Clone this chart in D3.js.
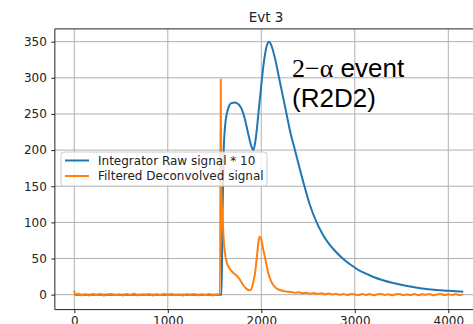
<!DOCTYPE html>
<html>
<head>
<meta charset="utf-8">
<script src="https://cdn.jsdelivr.net/npm/d3@7"></script>
<style>
  body { margin: 0; background: #fff; }
  text { font-family: "DejaVu Sans", sans-serif; }
</style>
</head>
<body>
<div id="main"></div>
<script>
const width = 473;
const height = 324;

const title = "Evt 3";
const seriesNames = ["Integrator Raw signal * 10", "Filtered Deconvolved signal"];
const seriesColors = ["#1f77b4", "#ff7f0e"];
const xTicks = [0, 1000, 2000, 3000, 4000];
const yTicks = [0, 50, 100, 150, 200, 250, 300, 350];

// blue: raw integrator signal (x10)
const rawX = [0, 1575, 1585, 1598, 1615, 1647, 1680, 1719, 1760, 1790, 1820, 1844, 1870, 1897, 1915,
  1935, 1955, 1975, 2000, 2030, 2060, 2083, 2110, 2150, 2190, 2230, 2270, 2310, 2360, 2410, 2457,
  2520, 2592, 2650, 2720, 2800, 2880, 2960, 3040, 3120, 3200, 3300, 3400, 3519, 3700, 3876, 4000, 4160];
const rawY = [0, 0, 110, 200, 236, 258, 265, 266, 263, 257, 245, 232, 217, 204, 200,
  211, 232, 258, 290, 324, 345, 350, 344, 325, 300, 275, 250, 225, 200, 175, 152,
  124, 100, 85, 71, 59, 49, 41, 34, 29, 24.5, 20, 16.5, 13, 9, 6.5, 5.5, 4];

// orange: filtered deconvolved signal
const filtX = [0, 10, 40, 80, 120, 160, 200, 240, 280, 320, 360, 400, 440, 480, 520, 560, 600, 640,
  680, 720, 760, 800, 840, 880, 920, 960, 1000, 1040, 1080, 1120, 1160, 1200, 1240, 1280, 1320, 1360,
  1400, 1440, 1480, 1520, 1558, 1566, 1572, 1587, 1600, 1612, 1630, 1648, 1675, 1701, 1730, 1754,
  1780, 1808, 1835, 1861, 1880, 1900, 1915, 1933, 1955, 1979, 1995, 2022, 2050, 2075, 2100, 2128,
  2160, 2200, 2240, 2280, 2320, 2360, 2400, 2440, 2480, 2520, 2560, 2600, 2640, 2680, 2720, 2760,
  2800, 2840, 2880, 2920, 2960, 3000, 3040, 3080, 3120, 3160, 3200, 3240, 3280, 3320, 3360, 3400,
  3440, 3480, 3520, 3560, 3600, 3640, 3680, 3720, 3760, 3800, 3840, 3880, 3920, 3960, 4000, 4040,
  4080, 4120, 4160];
const filtY = [5.5, -0.5, 1.2, -0.8, 0.6, -1.1, 1.0, -0.4, 0.9, -1.2, 0.5, 1.1, -0.7, 0.3, -1.0, 0.8,
  -0.5, 1.2, -0.9, 0.4, -0.2, 1.0, -1.1, 0.6, -0.6, 0.9, -0.3, 1.1, -0.8, 0.2, -1.0, 0.7, -0.4, 1.0,
  -0.9, 0.5, -0.6, 0.8, -1.0, 0.4, 0.2, 298, 150, 103, 72, 57, 45, 39, 34, 30, 27, 24,
  19, 13, 9, 6.5, 6, 10, 18, 29.5, 55, 80, 78, 62, 45, 29.5, 20, 13.4,
  9, 6.5, 5, 4, 3.8, 2.6, 3.2, 2.0, 2.8, 1.4, 2.2, 0.9, 1.9, 0.6, 1.5, 0.3,
  1.2, -0.2, 1.1, -0.4, 0.9, 0.2, -0.6, 1.0, -0.3, 0.8, -0.8, 0.5, 1.1, -0.5, 0.7, -0.9,
  0.6, 1.0, -0.7, 0.3, -0.4, 1.1, -0.8, 0.6, -0.2, 0.9, -1.0, 0.4, 1.0, -0.6, 0.5, -0.3,
  0.8, -0.5, 0.4];

const plot = { left: 54.85, right: 482.7, top: 28.9, bottom: 309.6 };

const x = d3.scaleLinear().domain([-208, 4368]).range([plot.left, plot.right]);
const y = d3.scaleLinear().domain([-20.65, 367.65]).range([plot.bottom, plot.top]);

const svg = d3.select("#main").append("svg").attr("width", width).attr("height", height);

svg.append("defs").append("clipPath").attr("id", "clip")
  .append("rect")
  .attr("x", plot.left).attr("y", plot.top)
  .attr("width", plot.right - plot.left).attr("height", plot.bottom - plot.top);

// grid
const grid = svg.append("g");
grid.selectAll(".vgrid").data(xTicks).enter().append("line")
  .attr("x1", (d) => x(d)).attr("x2", (d) => x(d))
  .attr("y1", plot.top).attr("y2", plot.bottom)
  .attr("stroke", "#b0b0b0").attr("stroke-width", 1);
grid.selectAll(".hgrid").data(yTicks).enter().append("line")
  .attr("x1", plot.left).attr("x2", plot.right)
  .attr("y1", (d) => y(d)).attr("y2", (d) => y(d))
  .attr("stroke", "#b0b0b0").attr("stroke-width", 1);

// lines
const line = d3.line().x((d) => x(d[0])).y((d) => y(d[1])).curve(d3.curveMonotoneX);
const rawData = rawX.map((v, i) => [v, rawY[i]]);
const filtData = filtX.map((v, i) => [v, filtY[i]]);

const lines = svg.append("g").attr("clip-path", "url(#clip)");
lines.append("path").datum(rawData).attr("d", line)
  .attr("fill", "none").attr("stroke", seriesColors[0]).attr("stroke-width", 2)
  .attr("stroke-linejoin", "round");
lines.append("path").datum(filtData).attr("d", line)
  .attr("fill", "none").attr("stroke", seriesColors[1]).attr("stroke-width", 2)
  .attr("stroke-linejoin", "round");

// axes
const xAxis = svg.append("g").attr("transform", `translate(0,${plot.bottom})`)
  .call(d3.axisBottom(x).tickValues(xTicks).tickFormat(d3.format("d")).tickSize(3.5).tickPadding(3));
const yAxis = svg.append("g").attr("transform", `translate(${plot.left},0)`)
  .call(d3.axisLeft(y).tickValues(yTicks).tickFormat(d3.format("d")).tickSize(3.5).tickPadding(4.5));

[xAxis, yAxis].forEach((ax) => {
  ax.select(".domain").remove();
  ax.selectAll("line").attr("stroke", "#222").attr("stroke-width", 1);
  ax.selectAll("text").attr("fill", "#222")
    .style("font-family", "DejaVu Sans").style("font-size", "12px");
});

// spines
svg.append("line").attr("x1", plot.left).attr("x2", plot.left)
  .attr("y1", plot.top).attr("y2", plot.bottom).attr("stroke", "#222");
svg.append("line").attr("x1", plot.left).attr("x2", plot.right)
  .attr("y1", plot.top).attr("y2", plot.top).attr("stroke", "#222");
svg.append("line").attr("x1", plot.left).attr("x2", plot.right)
  .attr("y1", plot.bottom).attr("y2", plot.bottom).attr("stroke", "#222");

// title
svg.append("text")
  .attr("x", 266).attr("y", 22)
  .attr("text-anchor", "middle")
  .attr("fill", "#222")
  .style("font-size", "13.5px")
  .text(title);

// annotation
const note = svg.append("text")
  .attr("x", 292).attr("y", 77)
  .attr("fill", "#000")
  .style("font-family", "Liberation Sans, Arial, sans-serif")
  .style("font-size", "26px");
note.append("tspan").style("font-family", "Liberation Serif, serif").text("2\u2212\u03b1");
note.append("tspan").text(" event");
svg.append("text")
  .attr("x", 292).attr("y", 107)
  .attr("fill", "#000")
  .style("font-family", "Liberation Sans, Arial, sans-serif")
  .style("font-size", "26px")
  .text("(R2D2)");

// legend
const legend = svg.append("g").attr("transform", "translate(61,152)");
legend.append("rect")
  .attr("width", 206).attr("height", 34).attr("rx", 3)
  .attr("fill", "#fff").attr("fill-opacity", 0.8)
  .attr("stroke", "#cccccc").attr("stroke-width", 1);
seriesNames.forEach((name, i) => {
  legend.append("line")
    .attr("x1", 4).attr("x2", 28)
    .attr("y1", 8.5 + i * 15.5).attr("y2", 8.5 + i * 15.5)
    .attr("stroke", seriesColors[i]).attr("stroke-width", 2);
  legend.append("text")
    .attr("x", 37).attr("y", 12.8 + i * 15.5)
    .attr("fill", "#222")
    .style("font-size", "12px")
    .text(name);
});
</script>
</body>
</html>
